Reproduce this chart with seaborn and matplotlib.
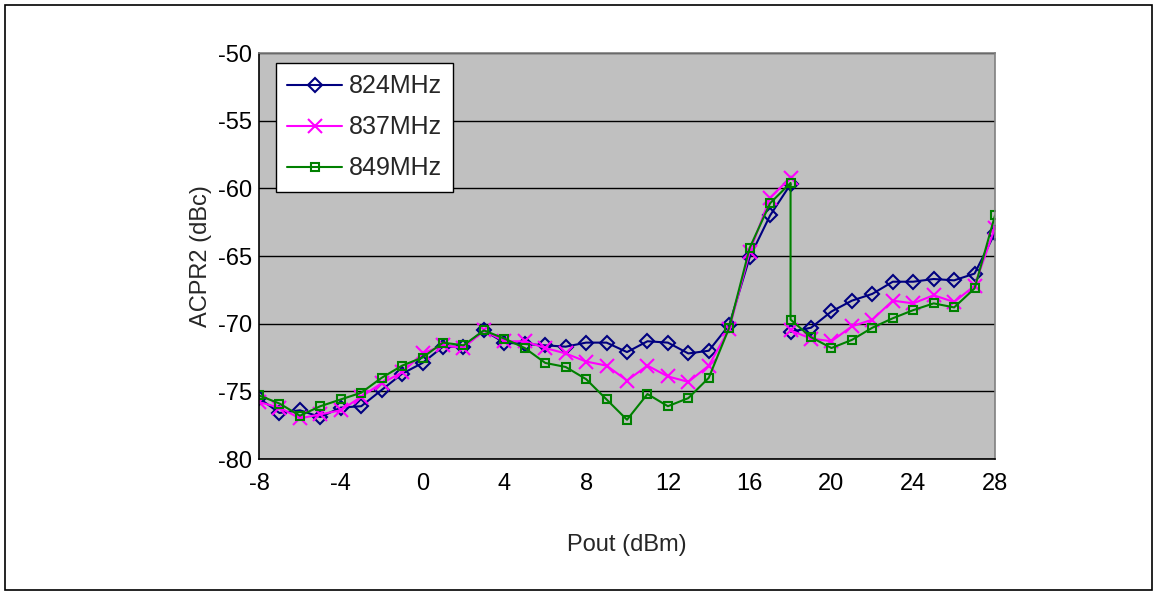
import numpy as np
import pandas as pd
import seaborn as sns
import matplotlib.pyplot as plt
from matplotlib.lines import Line2D
from matplotlib.patches import Rectangle

# x values: the sweep goes -8..18, then restarts at 18 and runs to 28
x_main = list(range(-8, 19))
x_tail = list(range(18, 29))

mhz824_main = [-75.5, -76.6, -76.4, -76.9, -76.2, -76.1, -74.9, -73.7, -72.9, -71.7,
               -71.7, -70.5, -71.4, -71.5, -71.6, -71.7, -71.4, -71.4, -72.1, -71.3,
               -71.4, -72.2, -72.0, -70.1, -65.1, -62.0, -59.7]
mhz824_tail = [-70.6, -70.3, -69.1, -68.3, -67.8, -66.9, -66.9, -66.7, -66.8, -66.3, -63.3]

mhz837_main = [-75.8, -76.2, -77.0, -76.7, -76.4, -75.4, -74.4, -73.6, -72.2, -71.6,
               -71.8, -70.5, -71.3, -71.3, -71.8, -72.2, -72.8, -73.1, -74.2, -73.1,
               -73.9, -74.3, -73.1, -70.4, -64.7, -60.7, -59.2]
mhz837_tail = [-70.5, -71.1, -71.3, -70.2, -69.7, -68.3, -68.5, -67.9, -68.4, -67.2, -62.9]

mhz849_main = [-75.3, -75.9, -76.8, -76.1, -75.6, -75.1, -74.0, -73.1, -72.5, -71.4,
               -71.6, -70.5, -71.1, -71.8, -72.9, -73.2, -74.1, -75.6, -77.1, -75.2,
               -76.1, -75.5, -74.0, -70.3, -64.4, -61.1, -59.6]
mhz849_tail = [-69.7, -71.0, -71.8, -71.2, -70.3, -69.6, -69.0, -68.5, -68.8, -67.4, -62.0]

labels = ["824MHz", "837MHz", "849MHz"]
colors = ["#000080", "#FF00FF", "#008000"]
markers = ["D", "x", "s"]
msizes = [7, 10, 6]


def build_frame(main, tail, joined):
    # joined=True -> the two parts are one line (vertical drop at x=18)
    df1 = pd.DataFrame({"pout": x_main, "acpr": main, "seg": 0})
    df2 = pd.DataFrame({"pout": x_tail, "acpr": tail, "seg": 0 if joined else 1})
    return pd.concat([df1, df2], ignore_index=True)


frames = [
    build_frame(mhz824_main, mhz824_tail, False),
    build_frame(mhz837_main, mhz837_tail, False),
    build_frame(mhz849_main, mhz849_tail, True),
]

sns.set_style("white")
plt.rcParams["font.family"] = ["Liberation Sans", "DejaVu Sans"]
plt.rcParams["axes.unicode_minus"] = False

fig = plt.figure(figsize=(11.58, 5.95), dpi=100)
ax = fig.add_axes([259 / 1158, 1 - 459 / 595, 736 / 1158, 406 / 595])
ax.set_facecolor("#C0C0C0")

for df, c, m, ms in zip(frames, colors, markers, msizes):
    sns.lineplot(data=df, x="pout", y="acpr", units="seg", estimator=None, sort=False,
                 color=c, marker=m, markersize=ms, markerfacecolor="none",
                 markeredgecolor=c, markeredgewidth=1.5, linewidth=1.5, ax=ax,
                 legend=False)

ax.set_xlim(-8, 28)
ax.set_ylim(-80, -50)
ax.set_xticks(range(-8, 29, 4))
ax.set_yticks(range(-80, -49, 5))
ax.yaxis.grid(True, color="black", linewidth=1)
ax.set_axisbelow(True)
ax.tick_params(axis="both", direction="in", length=7, width=1, labelsize=17,
               colors="black")
ax.tick_params(axis="y", pad=5)
ax.tick_params(axis="x", pad=10)

for s in ["left", "bottom"]:
    ax.spines[s].set_color("black")
    ax.spines[s].set_linewidth(1.2)
for s in ["top", "right"]:
    ax.spines[s].set_color("#808080")
    ax.spines[s].set_linewidth(1.2)

ax.set_xlabel("Pout (dBm)", fontsize=17, labelpad=28)
ax.set_ylabel("ACPR2 (dBc)", fontsize=17, labelpad=4)

handles = [Line2D([0], [0], color=c, marker=m, markersize=ms, markerfacecolor="none",
                  markeredgecolor=c, markeredgewidth=1.5, linewidth=1.5)
           for c, m, ms in zip(colors, markers, msizes)]
leg = ax.legend(handles, labels, loc="upper left", bbox_to_anchor=(0.023, 0.975),
                borderaxespad=0, fontsize=18, frameon=True, fancybox=False,
                handlelength=2.2, handletextpad=0.25, borderpad=0.45,
                labelspacing=0.68)
leg.get_frame().set_edgecolor("black")
leg.get_frame().set_facecolor("white")
leg.get_frame().set_alpha(1)
leg.get_frame().set_linewidth(1)

# outer chart border
fig.patches.append(Rectangle((5 / 1158, 5 / 595), 1147 / 1158, 585 / 595,
                             transform=fig.transFigure, fill=False,
                             edgecolor="black", linewidth=1.2))

fig.savefig("out.png", dpi=100)
